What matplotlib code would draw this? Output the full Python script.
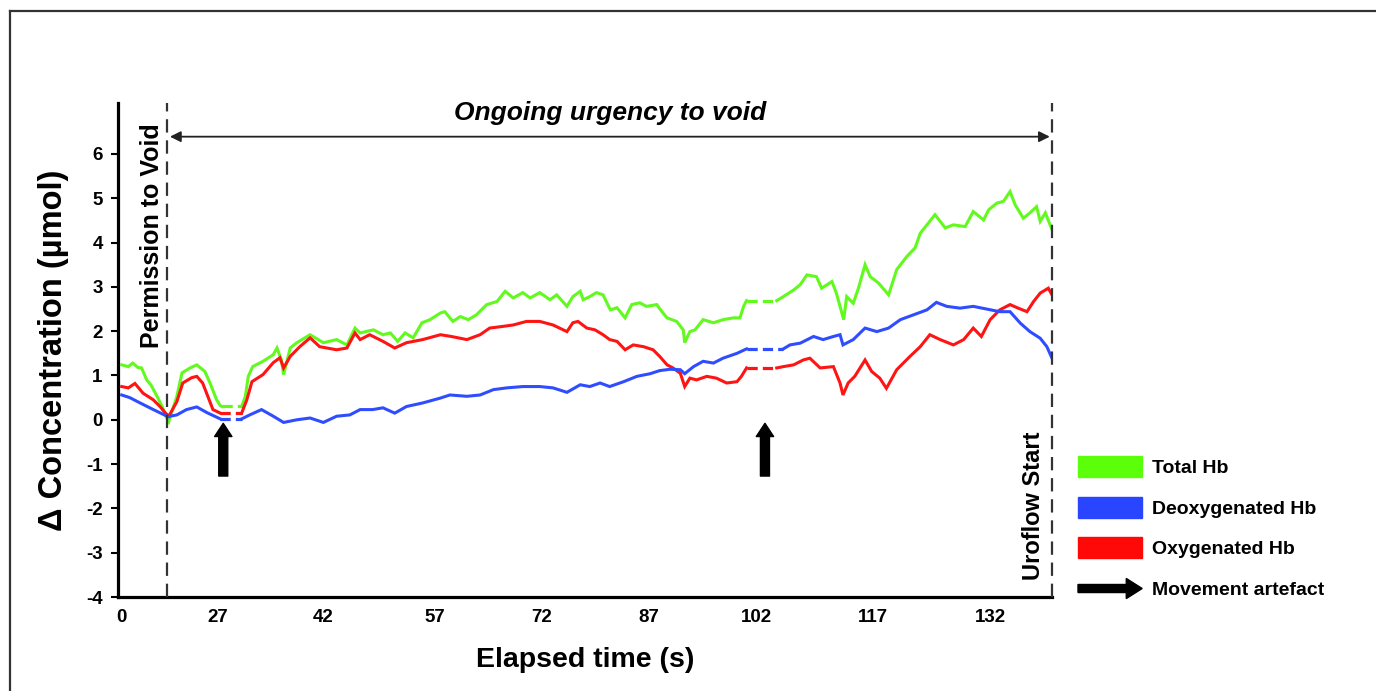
import numpy as np
import matplotlib
matplotlib.use("Agg")
import matplotlib.pyplot as plt
import matplotlib.patches as mpatches
from matplotlib.legend_handler import HandlerPatch
from matplotlib.lines import Line2D

plt.rcParams['font.family'] = ['Liberation Sans', 'DejaVu Sans']

# ---------------- data ----------------
xtick_pos = [0.4, 13.6, 27.9, 43.1, 57.6, 72.1, 86.7, 102.6, 118.6]
xtick_labels = ["0", "27", "42", "57", "72", "87", "102", "117", "132"]
yticks = [-4, -3, -2, -1, 0, 1, 2, 3, 4, 5, 6]

t_total = [0.5, 1.4, 2.0, 2.7, 3.2, 3.9, 4.5, 5.3, 6.0, 6.6, 6.9, 8.0, 8.7, 9.8, 10.7, 11.8, 12.5, 13.4, 13.9, 14.1,
           16.8, 17.3, 17.7, 18.3, 19.7, 21.1, 21.6, 22.2, 22.5, 23.4, 24.3, 26.1, 27.9, 29.7, 31.1, 32.2, 32.9, 34.7,
           36.0, 37.0, 38.0, 39.0, 40.1, 41.3, 42.4, 43.8, 44.4, 45.5, 46.5, 47.6, 48.7, 50.1, 51.5, 52.6, 53.7, 55.0,
           56.0, 57.3, 58.7, 59.6, 61.0, 61.8, 62.8, 63.2, 64.1, 65.0, 65.9, 66.9, 67.8, 68.9, 69.8, 70.9, 71.8, 73.2,
           73.9, 74.6, 75.9, 76.8, 77.0, 77.7, 78.4, 79.5, 80.9, 82.2, 83.6, 84.5, 85.0, 85.4,
           89.5, 90.4, 91.8, 92.7, 93.6, 94.9, 95.6, 97.0, 97.6, 98.6, 99.0, 99.9, 100.6, 101.5, 102.2, 103.3, 104.7,
           105.8, 107.2, 108.3, 109.0, 110.1, 111.0, 112.4, 113.5, 115.1, 116.2, 117.6, 118.3, 119.4, 120.3, 121.2,
           121.9, 123.0, 123.9, 124.8, 125.3, 126.0, 126.9]
total_hb = [1.24, 1.20, 1.28, 1.18, 1.17, 0.90, 0.78, 0.53, 0.30, 0.05, -0.04, 0.53, 1.06, 1.17, 1.24, 1.09, 0.83, 0.45,
            0.32, 0.30,
            0.30, 0.53, 0.98, 1.20, 1.32, 1.47, 1.62, 1.35, 1.02, 1.62, 1.74, 1.92, 1.74, 1.81, 1.69, 2.07, 1.96, 2.03,
            1.92, 1.96, 1.77, 1.96, 1.85, 2.19, 2.26, 2.41, 2.44, 2.22, 2.33, 2.26, 2.37, 2.60, 2.67, 2.90, 2.75, 2.87,
            2.75, 2.87, 2.71, 2.82, 2.56, 2.78, 2.90, 2.71, 2.78, 2.87, 2.82, 2.48, 2.53, 2.30, 2.60, 2.64, 2.56, 2.60,
            2.44, 2.30, 2.22, 2.03, 1.74, 1.99, 2.03, 2.26, 2.19, 2.26, 2.30, 2.30, 2.56, 2.69,
            2.69, 2.78, 2.93, 3.05, 3.27, 3.23, 2.97, 3.12, 2.86, 2.26, 2.78, 2.63, 2.97, 3.50, 3.23, 3.09, 2.82,
            3.39, 3.69, 3.88, 4.21, 4.44, 4.63, 4.33, 4.40, 4.36, 4.70, 4.51, 4.74, 4.89, 4.93, 5.15,
            4.85, 4.55, 4.67, 4.81, 4.48, 4.67, 4.29]
gaps_total = [(14.1, 16.8), (85.4, 89.5)]

t_oxy = [0.5, 1.4, 2.3, 3.4, 4.8, 5.7, 6.4, 6.9, 8.0, 8.8, 10.0, 10.7, 11.5, 12.2, 12.9, 13.9,
         16.8, 17.5, 18.2, 19.7, 21.1, 22.0, 22.5, 23.4, 24.7, 26.1, 27.4, 29.7, 31.1, 32.2, 32.9, 34.2, 36.0, 37.6,
         39.2, 41.4, 43.8, 45.3, 47.4, 49.2, 50.5, 52.4, 53.7, 55.5, 57.3, 59.1, 61.0, 61.8, 62.5, 63.7, 64.8, 65.9,
         66.8, 67.8, 68.9, 70.0, 71.4, 72.7, 73.6, 74.6, 75.4, 76.4, 77.0, 77.7, 78.6, 80.0, 81.3, 82.7, 84.1, 84.7,
         85.4,
         89.5, 90.4, 91.8, 93.1, 94.0, 95.4, 97.2, 98.1, 98.5, 99.2, 100.1, 101.5, 102.4, 103.5, 104.4, 105.8, 107.6,
         109.0, 110.3, 111.7, 113.5, 114.9, 116.2, 117.3, 118.5, 119.8, 121.2, 122.3, 123.5, 124.4, 125.3, 126.4,
         126.9]
oxy_hb = [0.75, 0.72, 0.82, 0.60, 0.45, 0.30, 0.16, 0.08, 0.41, 0.83, 0.95, 0.98, 0.83, 0.53, 0.23, 0.15,
          0.15, 0.45, 0.86, 1.02, 1.29, 1.40, 1.17, 1.43, 1.65, 1.85, 1.65, 1.58, 1.62, 1.96, 1.81, 1.92, 1.77, 1.62,
          1.74, 1.81, 1.92, 1.88, 1.81, 1.92, 2.07, 2.11, 2.14, 2.22, 2.22, 2.14, 1.99, 2.19, 2.22, 2.07, 2.03, 1.92,
          1.81, 1.77, 1.58, 1.69, 1.65, 1.58, 1.43, 1.24, 1.17, 1.05, 0.75, 0.94, 0.90, 0.98, 0.94, 0.83, 0.86, 0.98,
          1.17,
          1.17, 1.20, 1.24, 1.35, 1.39, 1.17, 1.20, 0.83, 0.56, 0.83, 0.98, 1.35, 1.09, 0.94, 0.71, 1.13, 1.43,
          1.65, 1.92, 1.81, 1.69, 1.81, 2.07, 1.88, 2.26, 2.48, 2.60, 2.52, 2.44, 2.67, 2.86, 2.97,
          2.82]
gaps_oxy = [(13.9, 16.8), (85.4, 89.5)]

t_deoxy = [0.5, 1.6, 3.0, 4.8, 6.8, 8.0, 9.3, 10.7, 12.1, 13.9,
           16.8, 17.9, 19.5, 21.1, 22.5, 24.3, 26.1, 27.9, 29.7, 31.5, 32.9, 34.6, 36.0, 37.6, 39.2, 41.4, 43.8,
           45.1, 47.4, 49.2, 51.0, 52.8, 55.0, 57.3, 59.1, 61.0, 62.8, 64.1, 65.5, 66.8, 68.7, 70.5, 72.3, 73.6,
           75.0, 76.4, 77.0, 78.2, 79.5, 80.9, 82.2, 84.1, 85.4,
           90.4, 91.3, 92.7, 94.5, 95.8, 97.2, 98.1, 98.5, 99.9, 101.5, 103.1, 104.7, 106.3, 108.1, 109.9, 111.2,
           112.6, 114.4, 116.2, 118.0, 119.8, 121.2, 122.6, 123.9, 125.3, 126.2, 126.9]
deoxy_hb = [0.56, 0.50, 0.38, 0.23, 0.07, 0.11, 0.23, 0.29, 0.16, 0.02,
            0.02, 0.11, 0.23, 0.08, -0.06, 0.00, 0.04, -0.06, 0.08, 0.11, 0.23, 0.23, 0.27, 0.15, 0.30, 0.38, 0.49,
            0.56, 0.53, 0.56, 0.68, 0.72, 0.75, 0.75, 0.72, 0.62, 0.79, 0.75, 0.83, 0.75, 0.86, 0.98, 1.04, 1.11,
            1.14, 1.13, 1.04, 1.20, 1.32, 1.28, 1.39, 1.50, 1.60,
            1.60, 1.69, 1.73, 1.88, 1.81, 1.88, 1.92, 1.69, 1.81, 2.07, 1.99, 2.07, 2.26, 2.37, 2.48, 2.65,
            2.56, 2.52, 2.56, 2.50, 2.44, 2.44, 2.18, 1.99, 1.84, 1.65, 1.39]
gaps_deoxy = [(13.9, 16.8), (85.4, 90.4)]

permission_time = 6.66
uroflow_time = 126.9
artefact_times = [14.3, 87.9]

series_names = ["Total Hb", "Deoxygenated Hb", "Oxygenated Hb"]
series_colors = ["#62fa1e", "#2f4dff", "#ff1414"]
legend_colors = ["#5cff0a", "#2a45ff", "#ff0808"]

# ---------------- figure ----------------
W, H = 1376, 691
fig = plt.figure(figsize=(W / 100, H / 100), dpi=100)
ax = fig.add_axes([118 / W, 1 - 597 / H, (1052 - 118) / W, (597 - 103) / H])
ax.set_xlim(0, uroflow_time)
ax.set_ylim(-4, 7.15)

def draw_series(t, v, gaps, color):
    t = np.asarray(t, float)
    v = np.asarray(v, float)
    breaks = []
    for a, b in gaps:
        i = int(np.argmin(np.abs(t - a)))
        j = int(np.argmin(np.abs(t - b)))
        ax.plot([t[i], t[j]], [v[i], v[j]], color=color, lw=2.3,
                ls=(0, (3.2, 1.6)), solid_capstyle='butt', zorder=3)
        breaks.append(j)
    for idx in np.split(np.arange(len(t)), breaks):
        ax.plot(t[idx], v[idx], color=color, lw=2.2, zorder=3,
                solid_joinstyle='miter')

draw_series(t_total, total_hb, gaps_total, series_colors[0])
draw_series(t_oxy, oxy_hb, gaps_oxy, series_colors[2])
draw_series(t_deoxy, deoxy_hb, gaps_deoxy, series_colors[1])

# spines / ticks
for s in ["top", "right"]:
    ax.spines[s].set_visible(False)
ax.spines["left"].set_linewidth(2.3)
ax.spines["bottom"].set_linewidth(2.3)
ax.set_yticks(yticks)
ax.set_yticklabels([str(v) for v in yticks], fontweight='bold', fontsize=13.5)
ax.tick_params(axis='y', direction='out', length=5, width=1.5, pad=6)
ax.set_xticks(xtick_pos)
ax.set_xticklabels(xtick_labels, fontweight='bold', fontsize=13.5)
ax.tick_params(axis='x', length=0, pad=9)

ax.set_ylabel("Δ Concentration (µmol)", fontsize=23.5, fontweight='bold', labelpad=12)
ax.set_xlabel("Elapsed time (s)", fontsize=20.5, fontweight='bold', labelpad=15)

# event lines
for xv in [permission_time, uroflow_time]:
    ax.plot([xv, xv], [-4, 7.15], color='#333333', lw=1.6, ls=(0, (6, 3.5)),
            clip_on=False, zorder=4)

ax.text(permission_time - 2.0, 4.15, "Permission to Void", rotation=90, ha='center',
        va='center', fontsize=18, fontweight='bold')
ax.text(uroflow_time - 2.55, -1.94, "Uroflow Start", rotation=90, ha='center',
        va='center', fontsize=17, fontweight='bold')

# urgency arrow
ax.annotate('', xy=(permission_time + 0.4, 6.39), xytext=(uroflow_time - 0.3, 6.39),
            arrowprops=dict(arrowstyle='<|-|>', lw=1.3, color='#222222',
                            mutation_scale=16, shrinkA=0, shrinkB=0),
            annotation_clip=False)
ax.text(66.8, 6.93, "Ongoing urgency to void", style='italic', fontweight='bold',
        fontsize=19, ha='center', va='center')

# movement artefact arrows
for at in artefact_times:
    ax.annotate('', xy=(at, -0.08), xytext=(at, -1.27),
                arrowprops=dict(arrowstyle='simple,head_width=1.25,head_length=0.95,tail_width=0.65',
                                color='black', mutation_scale=10, shrinkA=0, shrinkB=0))

# legend
def make_arrow(legend, orig_handle, xdescent, ydescent, width, height, fontsize):
    return mpatches.FancyArrow(-xdescent, -ydescent + height / 2, width, 0,
                               width=height * 0.38, head_width=height * 0.95,
                               head_length=height * 0.75, length_includes_head=True,
                               color='black')

handles = [mpatches.Patch(color=c) for c in legend_colors]
arrow_handle = mpatches.FancyArrow(0, 0, 1, 0, color='black')
handles.append(arrow_handle)
labels = series_names + ["Movement artefact"]
fig.legend(handles, labels, loc='upper left', bbox_to_anchor=(1078 / W, 1 - 456 / H),
           frameon=False, prop={'weight': 'bold', 'size': 14},
           handlelength=3.3, handleheight=1.3, labelspacing=1.0, handletextpad=0.5,
           borderpad=0, borderaxespad=0,
           handler_map={mpatches.FancyArrow: HandlerPatch(patch_func=make_arrow)})

# outer frame (cut off at right and bottom)
fig.add_artist(Line2D([10 / W, 10 / W], [0, 1 - 11 / H], transform=fig.transFigure,
                      color='#333333', lw=1.6))
fig.add_artist(Line2D([10 / W, 1], [1 - 11 / H, 1 - 11 / H], transform=fig.transFigure,
                      color='#333333', lw=1.6))

fig.savefig("out.png", dpi=100)
